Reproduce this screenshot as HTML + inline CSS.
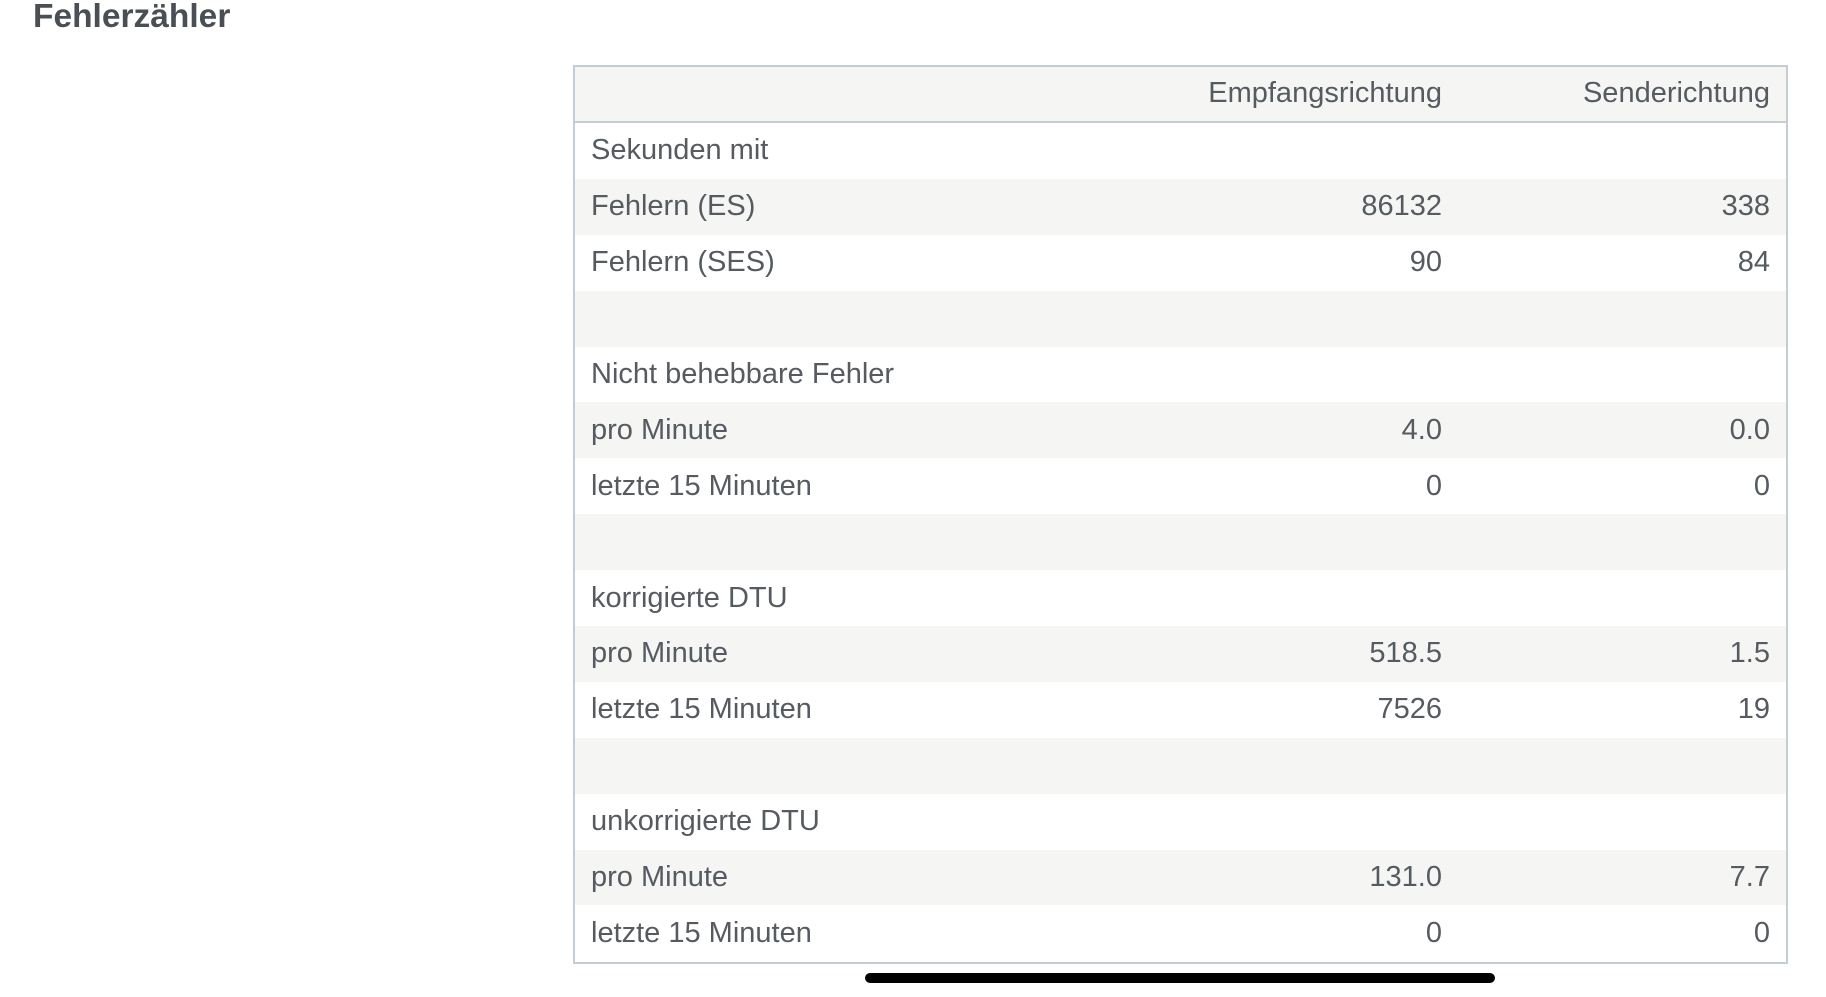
<!DOCTYPE html>
<html><head><meta charset="utf-8"><style>
body{margin:0;width:1826px;height:997px;background:#fff;font-family:"Liberation Sans",sans-serif;color:#565b62;position:relative;overflow:hidden}
h1{position:absolute;left:33px;top:-2px;margin:0;font-size:33.5px;font-weight:bold;color:#4a4f55}
.t{position:absolute;left:573px;top:65px;border:2px solid #c3cdd5;box-sizing:border-box;width:1215px;height:899px;overflow:hidden}
.r{height:55.9px;display:flex;align-items:center;font-size:29px;position:relative;padding-bottom:0;box-sizing:border-box}
.g{background:#f5f5f3}
.l{position:absolute;left:16px}
.a{position:absolute;right:344px}
.b{position:absolute;right:16px}
.h{height:56px;background:#f5f5f3;border-bottom:2px solid #c3cdd5;padding-bottom:1px}
.sb{position:absolute;left:865px;top:973px;width:630px;height:10px;background:#000;border-radius:5px}
</style></head><body>
<h1>Fehlerzähler</h1>
<div class="t">
<div class="r h"><span class="a">Empfangsrichtung</span><span class="b">Senderichtung</span></div>
<div class="r"><span class="l">Sekunden mit</span></div>
<div class="r g"><span class="l">Fehlern (ES)</span><span class="a">86132</span><span class="b">338</span></div>
<div class="r"><span class="l">Fehlern (SES)</span><span class="a">90</span><span class="b">84</span></div>
<div class="r g"></div>
<div class="r"><span class="l">Nicht behebbare Fehler</span></div>
<div class="r g"><span class="l">pro Minute</span><span class="a">4.0</span><span class="b">0.0</span></div>
<div class="r"><span class="l">letzte 15 Minuten</span><span class="a">0</span><span class="b">0</span></div>
<div class="r g"></div>
<div class="r"><span class="l">korrigierte DTU</span></div>
<div class="r g"><span class="l">pro Minute</span><span class="a">518.5</span><span class="b">1.5</span></div>
<div class="r"><span class="l">letzte 15 Minuten</span><span class="a">7526</span><span class="b">19</span></div>
<div class="r g"></div>
<div class="r"><span class="l">unkorrigierte DTU</span></div>
<div class="r g"><span class="l">pro Minute</span><span class="a">131.0</span><span class="b">7.7</span></div>
<div class="r"><span class="l">letzte 15 Minuten</span><span class="a">0</span><span class="b">0</span></div>
</div>
<div class="sb"></div>
</body></html>
